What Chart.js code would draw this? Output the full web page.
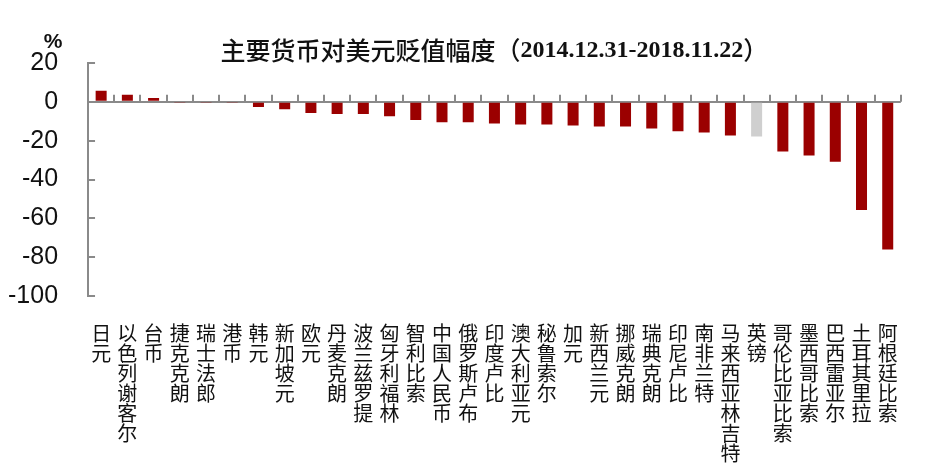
<!DOCTYPE html>
<html>
<head>
<meta charset="utf-8">
<script src="https://cdn.jsdelivr.net/npm/chart.js@4"></script>
<style>
  body { margin: 0; background: #fff; }
  #wrap { width: 925px; height: 473px; }
</style>
</head>
<body>
<div id="wrap"><canvas id="myChart" width="925" height="473"></canvas></div>
<script>
// Валюты (подписи оси X)
const currencies = ['日元', '以色列谢客尔', '台币', '捷克克朗', '瑞士法郎', '港币', '韩元', '新加坡元',
    '欧元', '丹麦克朗', '波兰兹罗提', '匈牙利福林', '智利比索', '中国人民币', '俄罗斯卢布', '印度卢比',
    '澳大利亚元', '秘鲁索尔', '加元', '新西兰元', '挪威克朗', '瑞典克朗', '印尼卢比', '南非兰特',
    '马来西亚林吉特', '英镑', '哥伦比亚比索', '墨西哥比索', '巴西雷亚尔', '土耳其里拉', '阿根廷比索'];

// Изменение курса к доллару, %
const changes = [5.7, 3.6, 2.0, -0.3, -0.4, -0.3, -2.6, -3.8,
    -5.8, -6.3, -6.3, -7.4, -9.4, -10.5, -10.5, -11.2,
    -11.7, -11.7, -12.2, -12.7, -12.7, -13.7, -15.1, -15.8,
    -17.3, -17.9, -25.6, -27.7, -30.8, -55.7, -76.1];

// Деления оси Y
const yTicks = [20, 0, -20, -40, -60, -80, -100];

const titleCn = '主要货币对美元贬值幅度（';
const titleDate = '2014.12.31-2018.11.22';
const titleEnd = '）';

const RED = '#9b0000';
const GREY = '#cfcfcf';
const AXIS = '#8a8a8a';

// Подписи по вертикали: один иероглиф на строку
const labels = currencies.map(c => c.split(''));
const colors = currencies.map(c => c === '英镑' ? GREY : RED);

// Плагин: засечки на нулевой линии, засечки оси Y, заголовок и «%»
const extras = {
    id: 'extras',
    afterDraw(chart) {
        const ctx = chart.ctx;
        const x = chart.scales.x;
        const y = chart.scales.y;
        const zero = y.getPixelForValue(0);
        ctx.save();
        ctx.strokeStyle = AXIS;
        ctx.lineWidth = 2;
        ctx.beginPath();
        for (let i = 0; i <= currencies.length; i++) {
            const px = Math.round(x.getPixelForValue(i - 0.5));
            ctx.moveTo(px, zero);
            ctx.lineTo(px, zero - 7);
        }
        yTicks.forEach(v => {
            const py = Math.round(y.getPixelForValue(v));
            ctx.moveTo(chart.chartArea.left, py);
            ctx.lineTo(chart.chartArea.left + 7, py);
        });
        ctx.stroke();

        // Заголовок из двух шрифтов
        ctx.fillStyle = '#111';
        ctx.textBaseline = 'middle';
        const fCn = '500 25px "Noto Sans CJK SC"';
        const fNum = 'bold 24px "Liberation Serif"';
        ctx.font = fCn;
        const w1 = ctx.measureText(titleCn).width;
        const w3 = ctx.measureText(titleEnd).width;
        ctx.font = fNum;
        const w2 = ctx.measureText(titleDate).width;
        const cx = (chart.chartArea.left + chart.chartArea.right) / 2;
        let tx = cx - (w1 + w2 + w3) / 2;
        const ty = 50;
        ctx.textAlign = 'left';
        ctx.font = fCn;
        ctx.fillText(titleCn, tx, ty);
        tx += w1;
        ctx.font = fNum;
        ctx.fillText(titleDate, tx, ty + 1);
        tx += w2;
        ctx.font = fCn;
        ctx.fillText(titleEnd, tx, ty);

        ctx.font = 'bold 21px "Liberation Sans"';
        ctx.textAlign = 'center';
        ctx.fillText('%', 53, 42);
        ctx.restore();
    }
};

const ctx = document.getElementById('myChart').getContext('2d');
new Chart(ctx, {
    type: 'bar',
    data: {
        labels: labels,
        datasets: [{
            data: changes,
            backgroundColor: colors,
            borderWidth: 0,
            categoryPercentage: 1,
            barPercentage: 0.42
        }]
    },
    options: {
        responsive: false,
        animation: false,
        layout: { padding: { top: 63, right: 17, bottom: 10, left: 8 } },
        plugins: { legend: { display: false }, tooltip: { enabled: false } },
        scales: {
            x: {
                offset: true,
                grid: { display: false, drawTicks: false },
                border: { display: false },
                // Chart.js резервирует двойной отступ, убираем лишний
                afterFit: a => { a.height -= a.options.ticks.padding; },
                ticks: {
                    autoSkip: false,
                    maxRotation: 0,
                    minRotation: 0,
                    padding: 27,
                    color: '#111',
                    font: { family: '"Noto Sans CJK SC"', size: 20, lineHeight: 1.0 }
                }
            },
            y: {
                min: -100,
                max: 20,
                afterBuildTicks: axis => { axis.ticks = yTicks.map(v => ({ value: v })); },
                afterFit: a => { a.width -= a.options.ticks.padding; },
                grid: {
                    drawTicks: false,
                    lineWidth: 2,
                    color: c => c.tick && c.tick.value === 0 ? AXIS : 'rgba(0,0,0,0)'
                },
                border: { display: true, color: AXIS, width: 2 },
                ticks: {
                    padding: 30,
                    color: '#111',
                    font: { family: '"Liberation Sans"', size: 25 }
                }
            }
        }
    },
    plugins: [extras]
});
</script>
</body>
</html>
